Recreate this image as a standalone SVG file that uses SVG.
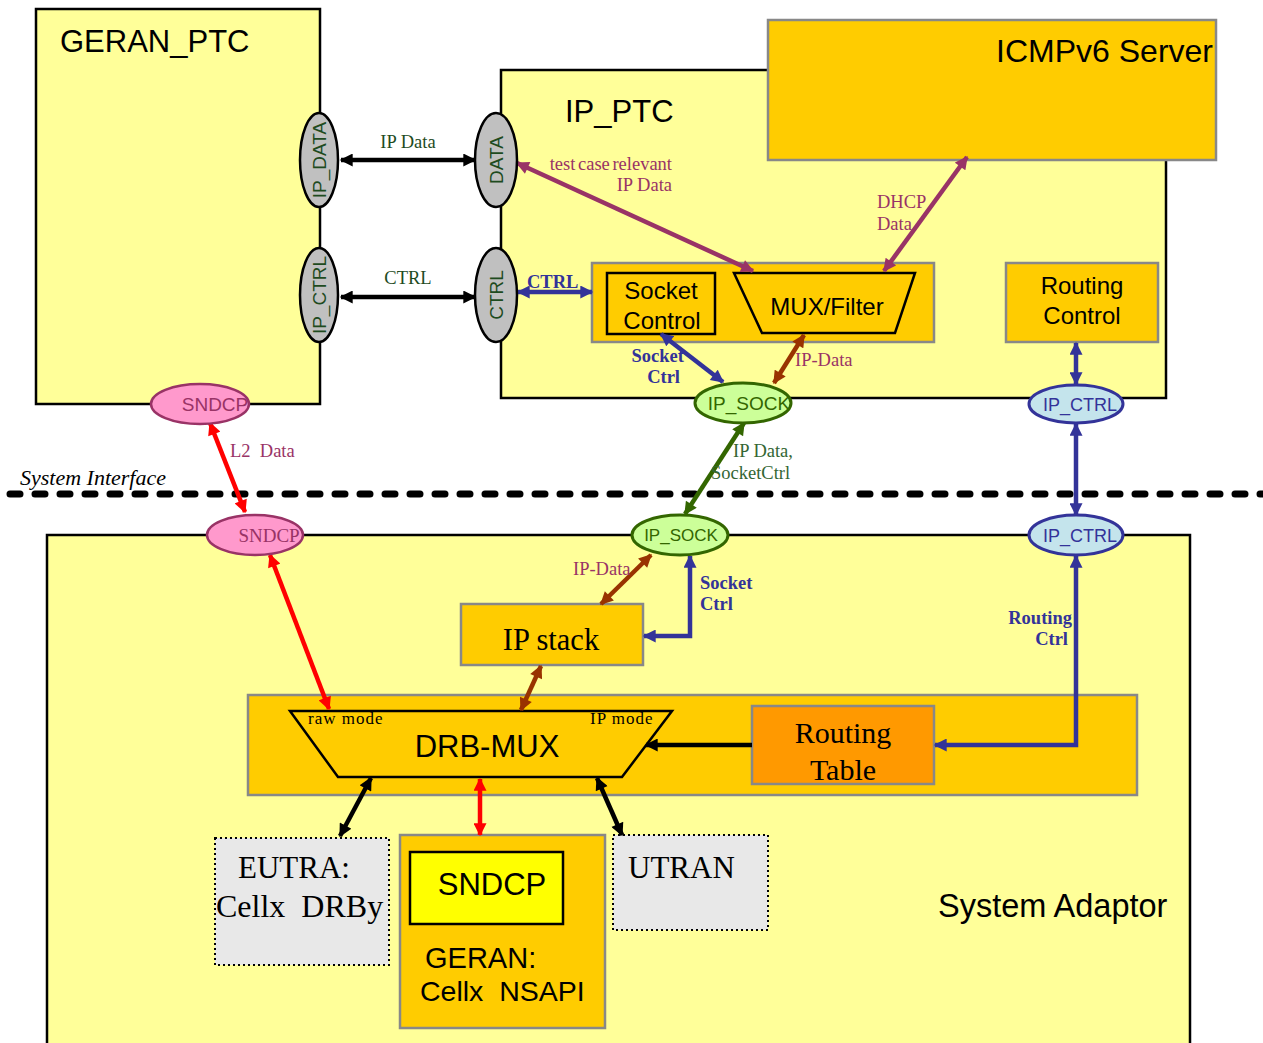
<svg xmlns="http://www.w3.org/2000/svg" width="1263" height="1043" viewBox="0 0 1263 1043">
<style>
.ptc{fill:#FFFF99;stroke:#000;stroke-width:2.5}
.org{fill:#FFCC00;stroke:#888;stroke-width:2.5}
.sans{font-family:"Liberation Sans",Arial,sans-serif}
.serif{font-family:"Liberation Serif","Times New Roman",serif}
.title{font-size:31px;fill:#000}
.gray{fill:#C0C0C0;stroke:#000;stroke-width:2.5}
.gt{font-size:19px;fill:#1E4B1E}
.pink{fill:#FF99CC;stroke:#993366;stroke-width:2.5}
.sock{fill:#CCFF99;stroke:#336600;stroke-width:3}
.ipc{fill:#C4E4EC;stroke:#333399;stroke-width:3}
.lbl{font-size:18.5px}
.b{font-weight:bold;font-size:18.5px}
.c{stroke-width:4.5;fill:none}
.k{stroke:#000}.pu{stroke:#993366}.bl{stroke:#333399}.br{stroke:#993300}.gr{stroke:#336600}.rd{stroke:#FF0000}
.dot{fill:#E8E8E8;stroke:#000;stroke-width:2;stroke-dasharray:2 3}
</style>
<defs>
<marker id="ak" viewBox="0 0 10 10" refX="9" refY="5" markerWidth="14" markerHeight="13" markerUnits="userSpaceOnUse" orient="auto-start-reverse"><path d="M0,0 L10,5 L0,10 z" fill="#000"/></marker>
<marker id="apu" viewBox="0 0 10 10" refX="9" refY="5" markerWidth="14" markerHeight="13" markerUnits="userSpaceOnUse" orient="auto-start-reverse"><path d="M0,0 L10,5 L0,10 z" fill="#993366"/></marker>
<marker id="abl" viewBox="0 0 10 10" refX="9" refY="5" markerWidth="14" markerHeight="13" markerUnits="userSpaceOnUse" orient="auto-start-reverse"><path d="M0,0 L10,5 L0,10 z" fill="#333399"/></marker>
<marker id="abr" viewBox="0 0 10 10" refX="9" refY="5" markerWidth="14" markerHeight="13" markerUnits="userSpaceOnUse" orient="auto-start-reverse"><path d="M0,0 L10,5 L0,10 z" fill="#993300"/></marker>
<marker id="agr" viewBox="0 0 10 10" refX="9" refY="5" markerWidth="14" markerHeight="13" markerUnits="userSpaceOnUse" orient="auto-start-reverse"><path d="M0,0 L10,5 L0,10 z" fill="#336600"/></marker>
<marker id="ard" viewBox="0 0 10 10" refX="9" refY="5" markerWidth="14" markerHeight="13" markerUnits="userSpaceOnUse" orient="auto-start-reverse"><path d="M0,0 L10,5 L0,10 z" fill="#FF0000"/></marker>
</defs>
<rect width="1263" height="1043" fill="#fff"/>

<g id="geran_ptc">
<rect class="ptc" x="36" y="9" width="284" height="395"/>
<text class="sans title" x="60" y="52">GERAN_PTC</text>
</g>
<g id="ip_ptc">
<rect class="ptc" x="501" y="70" width="665" height="328"/>
<text class="sans title" x="565" y="122">IP_PTC</text>
</g>
<g id="icmpv6_server">
<rect class="org" x="768" y="20" width="448" height="140"/>
<text class="sans" font-size="32" x="1213" y="62" text-anchor="end">ICMPv6 Server</text>
</g>
<g id="ptc_inner">
<rect class="org" x="592" y="263" width="342" height="79"/>
</g>
<g id="socket_control">
<rect x="607" y="273" width="108" height="61" fill="none" stroke="#000" stroke-width="2.5"/>
<text class="sans" font-size="24" x="661" y="299" text-anchor="middle">Socket</text>
<text class="sans" font-size="24" x="662" y="329" text-anchor="middle">Control</text>
</g>
<g id="mux_filter">
<path d="M734,273 L915,273 L895,333 L762,333 Z" fill="none" stroke="#000" stroke-width="2.5"/>
<text class="sans" font-size="24" x="827" y="315" text-anchor="middle">MUX/Filter</text>
</g>
<g id="routing_control">
<rect class="org" x="1006" y="263" width="152" height="79"/>
<text class="sans" font-size="24" x="1082" y="294" text-anchor="middle">Routing</text>
<text class="sans" font-size="24" x="1082" y="324" text-anchor="middle">Control</text>
</g>

<g id="system_adaptor">
<rect class="ptc" x="47" y="535" width="1143" height="530"/>
<text class="sans" font-size="32.5" x="938" y="917">System Adaptor</text>
</g>
<g id="ip_stack">
<rect class="org" x="461" y="604" width="182" height="61"/>
<text class="serif" font-size="30.5" x="551" y="650" text-anchor="middle">IP stack</text>
</g>
<g id="drb_container">
<rect class="org" x="248" y="695" width="889" height="100"/>
</g>
<g id="drb_mux">
<path d="M290,711 L672,711 L622,777 L338,777 Z" fill="none" stroke="#000" stroke-width="2.5"/>
<text class="sans" font-size="31" x="487" y="757" text-anchor="middle">DRB-MUX</text>
<text class="serif" font-size="17" x="308" y="724" letter-spacing="1">raw mode</text>
<text class="serif" font-size="17" x="590" y="724" letter-spacing="1">IP mode</text>
</g>
<g id="routing_table">
<rect x="752" y="706" width="182" height="78" fill="#FF9900" stroke="#888" stroke-width="2.5"/>
<text class="serif" font-size="30" x="843" y="743" text-anchor="middle">Routing</text>
<text class="serif" font-size="30" x="843" y="780" text-anchor="middle">Table</text>
</g>
<g id="eutra">
<rect class="dot" x="215" y="838" width="174" height="127"/>
<text class="serif" font-size="31" x="238" y="878">EUTRA:</text>
<text class="serif" font-size="32" x="216" y="917" xml:space="preserve">Cellx  DRBy</text>
</g>
<g id="geran">
<rect class="org" x="400" y="835" width="205" height="193"/>
<rect x="410" y="852" width="153" height="72" fill="#FFFF00" stroke="#000" stroke-width="2.5"/>
<text class="sans" font-size="31" x="492" y="895" text-anchor="middle">SNDCP</text>
<text class="sans" font-size="29" x="425" y="968">GERAN:</text>
<text class="sans" font-size="28.5" x="420" y="1001" xml:space="preserve">Cellx  NSAPI</text>
</g>
<g id="utran">
<rect class="dot" x="613" y="835" width="155" height="95"/>
<text class="serif" font-size="31" x="628" y="878">UTRAN</text>
</g>

<g id="system_interface">
<line x1="10" y1="494" x2="1263" y2="494" stroke="#000" stroke-width="7" stroke-dasharray="10 15" stroke-linecap="round"/>
<text class="serif" font-size="22" font-style="italic" x="20" y="485">System Interface</text>
</g>

<g id="connectors">
<line class="c k" x1="341" y1="160" x2="475" y2="160" marker-start="url(#ak)" marker-end="url(#ak)"/>
<line class="c k" x1="341" y1="297" x2="475" y2="297" marker-start="url(#ak)" marker-end="url(#ak)"/>
<line class="c pu" x1="517" y1="163" x2="753" y2="271" marker-start="url(#apu)" marker-end="url(#apu)"/>
<line class="c pu" x1="967" y1="157" x2="884" y2="271" marker-start="url(#apu)" marker-end="url(#apu)"/>
<line class="c bl" x1="518" y1="292" x2="592" y2="292" marker-start="url(#abl)" marker-end="url(#abl)"/>
<line class="c bl" x1="661" y1="334" x2="723" y2="382" marker-start="url(#abl)" marker-end="url(#abl)"/>
<line class="c br" x1="804" y1="335" x2="774" y2="383" marker-start="url(#abr)" marker-end="url(#abr)"/>
<line class="c bl" x1="1076" y1="343" x2="1076" y2="384" marker-start="url(#abl)" marker-end="url(#abl)"/>
<line class="c gr" x1="744" y1="423" x2="685" y2="514" marker-start="url(#agr)" marker-end="url(#agr)"/>
<line class="c bl" x1="1076" y1="424" x2="1076" y2="515" marker-start="url(#abl)" marker-end="url(#abl)"/>
<line class="c rd" x1="210" y1="423" x2="245" y2="512" marker-start="url(#ard)" marker-end="url(#ard)"/>
<line class="c rd" x1="270" y1="555" x2="329" y2="709" marker-start="url(#ard)" marker-end="url(#ard)"/>
<line class="c br" x1="651" y1="555" x2="601" y2="604" marker-start="url(#abr)" marker-end="url(#abr)"/>
<path class="c bl" d="M690,556 L690,636 L644,636" marker-start="url(#abl)" marker-end="url(#abl)"/>
<line class="c br" x1="541" y1="666" x2="521" y2="710" marker-start="url(#abr)" marker-end="url(#abr)"/>
<line class="c k" x1="752" y1="745" x2="646" y2="745" marker-end="url(#ak)"/>
<path class="c bl" d="M1076,556 L1076,745 L935,745" marker-start="url(#abl)" marker-end="url(#abl)"/>
<line class="c k" x1="371" y1="778" x2="340" y2="836" marker-start="url(#ak)" marker-end="url(#ak)"/>
<line class="c rd" x1="480" y1="779" x2="480" y2="835" marker-start="url(#ard)" marker-end="url(#ard)"/>
<line class="c k" x1="597" y1="778" x2="622" y2="835" marker-start="url(#ak)" marker-end="url(#ak)"/>

<g class="serif lbl">
<text x="408" y="148" text-anchor="middle" fill="#1E4B1E">IP Data</text>
<text x="408" y="284" text-anchor="middle" fill="#1E4B1E">CTRL</text>
<text x="672" y="170" text-anchor="end" fill="#993366" word-spacing="-2">test case relevant</text>
<text x="672" y="191" text-anchor="end" fill="#993366">IP Data</text>
<text x="877" y="208" fill="#993366">DHCP</text>
<text x="877" y="230" fill="#993366">Data</text>
<text class="b" x="527" y="288" fill="#333399">CTRL</text>
<text class="b" x="684" y="362" text-anchor="end" fill="#333399">Socket</text>
<text class="b" x="680" y="383" text-anchor="end" fill="#333399">Ctrl</text>
<text x="795" y="366" fill="#993366">IP-Data</text>
<text x="230" y="457" fill="#993366" xml:space="preserve">L2  Data</text>
<text x="733" y="457" fill="#336633">IP Data,</text>
<text x="711" y="479" fill="#336633">SocketCtrl</text>
<text x="573" y="575" fill="#993366">IP-Data</text>
<text class="b" x="700" y="589" fill="#333399">Socket</text>
<text class="b" x="700" y="610" fill="#333399">Ctrl</text>
<text class="b" x="1072" y="624" text-anchor="end" fill="#333399">Routing</text>
<text class="b" x="1068" y="645" text-anchor="end" fill="#333399">Ctrl</text>
</g>
</g>

<g id="ip_data_port">
<ellipse class="gray" cx="319" cy="160" rx="19" ry="47"/>
<text class="sans gt" transform="rotate(-90 319 160)" x="319" y="167" text-anchor="middle">IP_DATA</text>
</g>
<g id="ip_ctrl_port">
<ellipse class="gray" cx="319" cy="295" rx="19" ry="47"/>
<text class="sans gt" transform="rotate(-90 319 295)" x="319" y="302" text-anchor="middle">IP_CTRL</text>
</g>
<g id="data_port">
<ellipse class="gray" cx="496" cy="160" rx="21" ry="47"/>
<text class="sans gt" transform="rotate(-90 496 160)" x="496" y="167" text-anchor="middle">DATA</text>
</g>
<g id="ctrl_port">
<ellipse class="gray" cx="496" cy="295" rx="21" ry="47"/>
<text class="sans gt" transform="rotate(-90 496 295)" x="496" y="302" text-anchor="middle">CTRL</text>
</g>
<g id="sndcp_ptc">
<ellipse class="pink" cx="200" cy="404" rx="49" ry="20"/>
<text class="sans" font-size="19" fill="#993366" x="215" y="411" text-anchor="middle">SNDCP</text>
</g>
<g id="ip_sock_ptc">
<ellipse class="sock" cx="743" cy="403" rx="48" ry="20"/>
<text class="sans" font-size="19" fill="#336600" x="749" y="410" text-anchor="middle">IP_SOCK</text>
</g>
<g id="ip_ctrl_ptc">
<ellipse class="ipc" cx="1076" cy="404" rx="47" ry="19"/>
<text class="sans" font-size="18" fill="#333399" x="1080" y="411" text-anchor="middle">IP_CTRL</text>
</g>
<g id="sndcp_sa">
<ellipse class="pink" cx="255" cy="535" rx="48" ry="20"/>
<text class="serif" font-size="19" fill="#993366" x="269" y="542" text-anchor="middle">SNDCP</text>
</g>
<g id="ip_sock_sa">
<ellipse class="sock" cx="680" cy="535" rx="48" ry="20"/>
<text class="sans" font-size="17" fill="#336600" x="681" y="541" text-anchor="middle">IP_SOCK</text>
</g>
<g id="ip_ctrl_sa">
<ellipse class="ipc" cx="1076" cy="535" rx="47" ry="20"/>
<text class="sans" font-size="18" fill="#333399" x="1080" y="542" text-anchor="middle">IP_CTRL</text>
</g>
</svg>
